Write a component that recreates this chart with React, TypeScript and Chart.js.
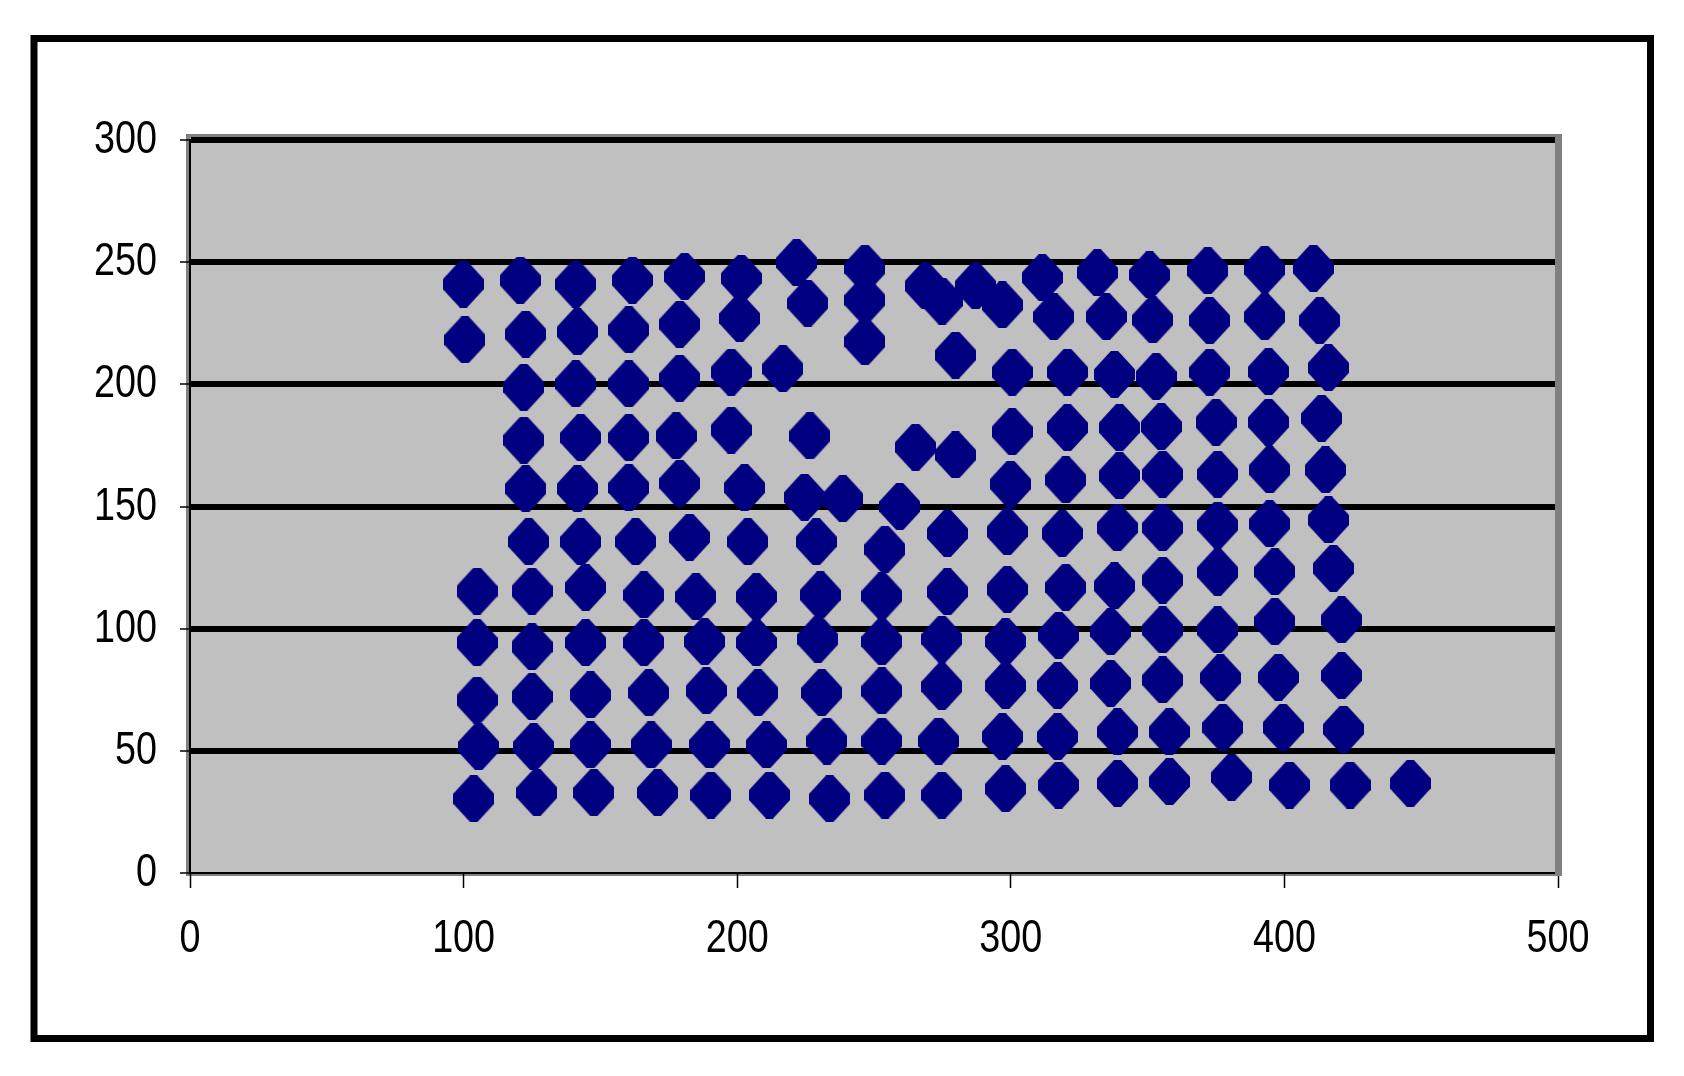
import React, { useEffect, useRef } from "react";
import { Chart, registerables } from "chart.js";

Chart.register(...registerables);

// Scatter data (x, y)
const xValues = [
  99.9, 100.5, 104.9, 104.9, 104.9, 105.5, 103.7,
  120.7, 122.7, 122, 122, 122.7, 123.8, 125, 125, 125, 125.6, 126.8,
  141, 141.6, 141, 142.8, 141.6, 142.8, 144.6, 144.6, 146.4, 146.4, 147.6,
  161.7, 160.4, 160.4, 160.4, 160.4, 162.9, 165.9, 165.9, 167.7, 168.5, 170.9,
  180.8, 179, 179, 177.7, 179, 182.6, 184.9, 188.1, 188.7, 189.9, 190.4,
  201.5, 200.9, 197.8, 197.8, 202.7, 203.9, 207, 207, 207.6, 210.7, 211.8,
  221.7, 225.8, 216.7, 226.6, 224.6, 238.6, 228.9, 230.4, 229.5, 230.9, 232.8, 233.8,
  246.7, 246.7, 246.7, 265.2, 259.4, 254, 252.9, 252.9, 252.9, 252.9, 254,
  268.8, 274.9, 279.8, 279.8, 276.8, 276.8, 274.8, 274.8, 273.6, 274.8, 287.1, 296.9,
  300.5, 300.5, 299.9, 298.7, 298.7, 298.1, 298.1, 296.9, 298.1,
  311.5, 315.7, 320.7, 320.7, 320.1, 318.8, 320.1, 317.5, 317.1, 317.1, 317.5,
  331.6, 334.9, 337.9, 339.7, 339.7, 338.9, 337.9, 336.5, 336.5, 339, 339,
  350.7, 351.9, 353.1, 355, 355.5, 355.5, 355.5, 355.5, 355.5, 357.9, 358,
  372, 372.7, 372.7, 375, 375.6, 375.6, 375.6, 375.6, 376.6, 377.5, 380.7,
  392.8, 392.8, 394.2, 394.2, 394.6, 394.6, 396.5, 396.5, 397.8, 399.5, 401.9,
  410.6, 412.9, 416.1, 413.6, 415, 416.1, 417.9, 420.9, 420.9, 421.6, 424, 446,
];
const yValues = [
  241, 218.2, 115.4, 94.3, 70.8, 51.7, 30.4,
  242.6, 220.6, 198.8, 177.2, 157.3, 135.6, 115.4, 92.6, 72.2, 51.7, 32.9,
  241, 221.5, 200.2, 178.2, 157.3, 135.6, 116.9, 94.3, 72.9, 52.4, 32.9,
  242.6, 222.3, 200.2, 178.2, 157.7, 135.6, 113.8, 94.3, 73.8, 52.4, 32.9,
  244.2, 224.6, 202.5, 178.9, 159.5, 137.4, 113.1, 94.7, 74.6, 52.4, 31.9,
  243.4, 227, 205, 181.3, 157.7, 135.6, 113.1, 94.3, 73.8, 52.4, 31.9,
  249.8, 233.2, 206.4, 178.9, 153.8, 153.2, 135.6, 113.8, 95.7, 73.8, 54, 30.4,
  247.5, 234.5, 217.5, 174.3, 150, 132.5, 113.4, 94.7, 74.5, 54, 31.9,
  240.3, 234.1, 212, 171.1, 139, 115.1, 95.7, 76.3, 54, 31.9, 240.3, 232.5,
  205, 180.6, 159.2, 139.7, 116.1, 94.7, 76.7, 55.8, 34.5,
  243.7, 227.7, 205, 182.3, 160.9, 139, 116.9, 97.3, 76.7, 55.8, 36,
  245.7, 227.7, 204.1, 182.3, 162.6, 141.3, 117.5, 98.8, 77.6, 57.8, 36.7,
  244.8, 226.4, 203.2, 182.7, 163.2, 141.3, 119.9, 99.5, 79, 57.8, 37.4,
  246.5, 226.1, 205, 184.5, 163.2, 142.4, 123.1, 99.5, 79.9, 59.6, 39.2,
  247.1, 227.7, 205.2, 184.5, 165, 142.9, 123.3, 102.9, 80.1, 59.6, 36,
  247.5, 226.1, 206.8, 186.1, 165, 144.5, 124.7, 103.6, 80.8, 58.9, 36, 36.7,
];
const xTickValues = [0, 100, 200, 300, 400, 500];
const yTickValues = [0, 50, 100, 150, 200, 250, 300];

const FONT_FAMILY = "'Liberation Sans Narrow', 'Arial Narrow', 'Liberation Sans', Arial, sans-serif";

function makeDiamond(): HTMLCanvasElement {
  const w = 41;
  const h = 47;
  const c = document.createElement("canvas");
  c.width = w;
  c.height = h;
  const g = c.getContext("2d")!;
  const cx = w / 2;
  const cy = h / 2;
  g.fillStyle = "#000080";
  g.beginPath();
  g.moveTo(cx - 3.5, 0);
  g.lineTo(cx + 3.5, 0);
  g.lineTo(w, cy - 5);
  g.lineTo(w, cy + 5);
  g.lineTo(cx + 3.5, h);
  g.lineTo(cx - 3.5, h);
  g.lineTo(0, cy + 5);
  g.lineTo(0, cy - 5);
  g.closePath();
  g.fill();
  return c;
}

const framePlugin = {
  id: "excelFrame",
  beforeDraw(chart: any) {
    const { ctx, chartArea: a } = chart;
    ctx.save();
    ctx.fillStyle = "#ffffff";
    ctx.fillRect(0, 0, chart.width, chart.height);
    // plot-area border (dark gray) and fill (silver)
    ctx.fillStyle = "#808080";
    ctx.fillRect(a.left - 4, a.top - 6, a.right + 4 - (a.left - 4), a.bottom + 3 - (a.top - 6));
    ctx.fillStyle = "#C0C0C0";
    ctx.fillRect(a.left, a.top - 2.5, a.right - 3 - a.left, a.bottom - (a.top - 2.5));
    // outer chart border
    ctx.strokeStyle = "#000000";
    ctx.lineWidth = 7;
    ctx.strokeRect(34, 38.5, 1650.5 - 34, 1038.5 - 38.5);
    ctx.restore();
  },
  beforeDatasetsDraw(chart: any) {
    const { ctx, chartArea: a } = chart;
    ctx.save();
    ctx.fillStyle = "#808080";
    ctx.fillRect(a.right - 3, a.top - 6, 7, a.bottom + 3 - (a.top - 6));
    ctx.restore();
  },
  afterDraw(chart: any) {
    // condensed tick labels (Arial Narrow look)
    const { ctx } = chart;
    const xs = chart.scales.x;
    const ys = chart.scales.y;
    const squeeze = 0.82;
    ctx.save();
    ctx.fillStyle = "#000000";
    ctx.font = `46px ${FONT_FAMILY}`;
    ctx.textBaseline = "alphabetic";
    for (const v of yTickValues) {
      const py = ys.getPixelForValue(v);
      ctx.save();
      ctx.translate(157, py + 13);
      ctx.scale(squeeze, 1);
      ctx.textAlign = "right";
      ctx.fillText(String(v), 0, 0);
      ctx.restore();
    }
    for (const v of xTickValues) {
      const px = xs.getPixelForValue(v);
      ctx.save();
      ctx.translate(px, 952);
      ctx.scale(squeeze, 1);
      ctx.textAlign = "center";
      ctx.fillText(String(v), 0, 0);
      ctx.restore();
    }
    ctx.restore();
  },
};

export default function App() {
  const canvasRef = useRef<HTMLCanvasElement | null>(null);

  useEffect(() => {
    const canvas = canvasRef.current;
    if (!canvas) return;
    const diamond = makeDiamond();
    const points = xValues.map((x, i) => ({ x, y: yValues[i] }));

    const chart = new Chart(canvas, {
      type: "scatter",
      data: {
        datasets: [
          {
            data: points,
            pointStyle: diamond as any,
            pointRadius: 20,
            pointHoverRadius: 20,
            backgroundColor: "#000080",
            borderColor: "#000080",
            borderWidth: 0,
          },
        ],
      },
      options: {
        animation: false,
        responsive: false,
        maintainAspectRatio: false,
        devicePixelRatio: 1,
        layout: { padding: { top: 140, right: 126, left: 0, bottom: 0 } },
        plugins: {
          legend: { display: false },
          tooltip: { enabled: false },
          title: { display: false },
        },
        scales: {
          x: {
            type: "linear",
            min: 0,
            max: 500,
            afterBuildTicks: (scale: any) => {
              scale.ticks = xTickValues.map((v) => ({ value: v }));
            },
            afterFit: (scale: any) => {
              scale.height = 1076 - 873;
            },
            grid: {
              drawOnChartArea: false,
              drawTicks: true,
              tickLength: 15,
              tickWidth: 1.5,
              tickColor: "#000000",
              color: "#000000",
            },
            border: { display: true, color: "#000000", width: 2 },
            ticks: { display: false },
          },
          y: {
            type: "linear",
            min: 0,
            max: 300,
            afterBuildTicks: (scale: any) => {
              scale.ticks = yTickValues.map((v) => ({ value: v }));
            },
            afterFit: (scale: any) => {
              scale.width = 190;
            },
            grid: {
              color: "#000000",
              lineWidth: (c: any) => (c.tick && c.tick.value === 0 ? 0 : 6),
              drawTicks: true,
              tickLength: 10,
              tickWidth: 1.5,
              tickColor: "#000000",
            },
            border: { display: true, color: "#000000", width: 2 },
            ticks: { display: false },
          },
        },
      },
      plugins: [framePlugin],
    });

    return () => {
      chart.destroy();
    };
  }, []);

  return (
    <div style={{ position: "absolute", left: 0, top: 0, width: 1684, height: 1076, background: "#fff" }}>
      <canvas ref={canvasRef} width={1684} height={1076} style={{ display: "block", width: 1684, height: 1076 }} />
    </div>
  );
}
